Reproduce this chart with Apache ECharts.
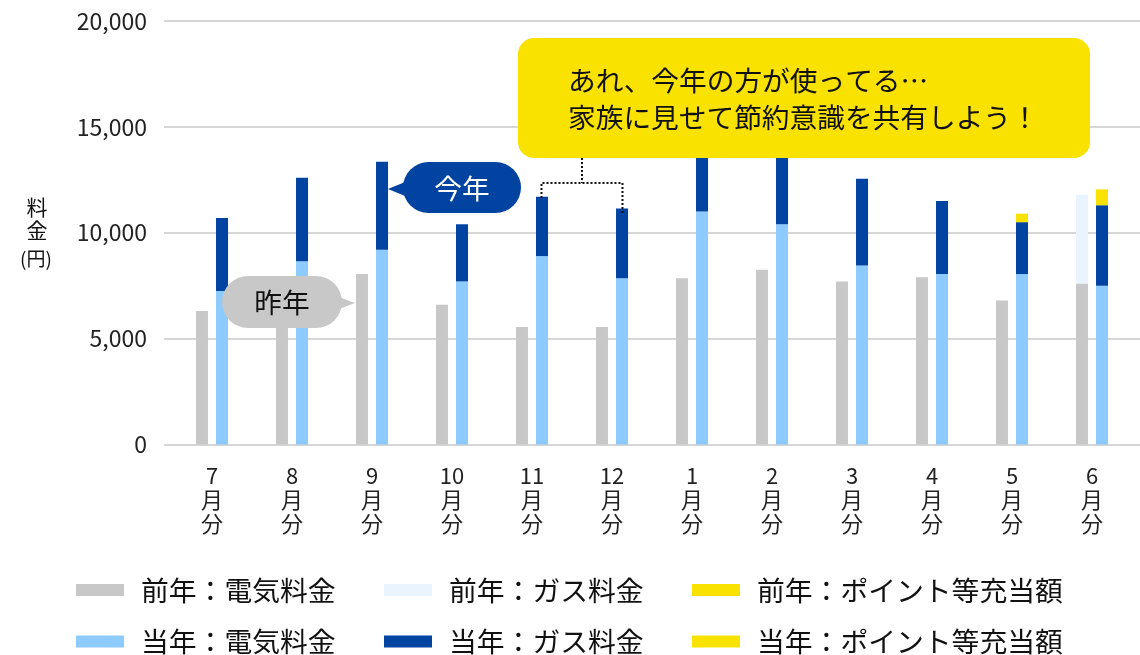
<!DOCTYPE html>
<html>
<head>
<meta charset="utf-8">
<script src="https://cdn.jsdelivr.net/npm/echarts@6/dist/echarts.min.js"></script>
<style>
html,body{margin:0;padding:0;background:#ffffff;}
#chart{width:1140px;height:655px;}
</style>
</head>
<body>
<div id="chart"></div>
<script>
// ---- data ----
const months = ['7月分','8月分','9月分','10月分','11月分','12月分','1月分','2月分','3月分','4月分','5月分','6月分'];
const prevElectric = [6300, 6500, 8050, 6600, 5550, 5550, 7850, 8250, 7700, 7900, 6800, 7600];
const prevGas      = [0, 0, 0, 0, 0, 0, 0, 0, 0, 0, 0, 4200];
const prevPoints   = [0, 0, 0, 0, 0, 0, 0, 0, 0, 0, 0, 0];
const curElectric  = [7250, 8650, 9200, 7700, 8900, 7850, 11000, 10400, 8450, 8050, 8050, 7500];
const curGas       = [3450, 3950, 4150, 2700, 2800, 3300, 4200, 4400, 4100, 3450, 2450, 3800];
const curPoints    = [0, 0, 0, 0, 0, 0, 0, 0, 0, 0, 400, 750];
const yMin = 0, yMax = 20000, yInterval = 5000;
const seriesNames = ['前年：電気料金','前年：ガス料金','前年：ポイント等充当額','当年：電気料金','当年：ガス料金','当年：ポイント等充当額'];
const calloutLines = ['あれ、今年の方が使ってる…','家族に見せて節約意識を共有しよう！'];
const thisYearTag = '今年';
const lastYearTag = '昨年';
const yAxisTitle = ['料','金','(円)'];

// ---- styles ----
const FONT = '"Noto Sans CJK JP", "Noto Sans", sans-serif';
const C_GRAY = '#c8c8c8';
const C_PREV_GAS = '#e9f4fe';
const C_YELLOW = '#f9e100';
const C_CUR_ELEC = '#8dcafd';
const C_CUR_GAS = '#0043a1';
const colors = [C_GRAY, C_PREV_GAS, C_YELLOW, C_CUR_ELEC, C_CUR_GAS, C_YELLOW];
const seriesData = [prevElectric, prevGas, prevPoints, curElectric, curGas, curPoints];

const chart = echarts.init(document.getElementById('chart'));

const series = seriesData.map((d, i) => ({
  name: seriesNames[i],
  type: 'bar',
  xAxisIndex: 1,
  yAxisIndex: 1,
  stack: i < 3 ? 'prev' : 'cur',
  barWidth: 12,
  barGap: '67%',
  itemStyle: { color: colors[i] },
  emphasis: { disabled: true },
  data: d
}));

const legendPos = [
  [76, 576], [384, 576], [692, 576],
  [76, 627.5], [384, 627.5], [692, 627.5]
];
const legends = seriesNames.map((n, i) => ({
  data: [n],
  left: legendPos[i][0],
  top: legendPos[i][1],
  padding: 0,
  icon: 'rect',
  itemWidth: 48,
  itemHeight: 12,
  selectedMode: false,
  textStyle: { fontFamily: FONT, fontSize: 27.8, lineHeight: 28, color: '#111', padding: [0, 0, 0, 12] }
}));

function txt(text, x, y, size, color, align) {
  return {
    type: 'text', z: 100,
    style: {
      text: text, x: x, y: y,
      font: size + 'px ' + FONT,
      fill: color,
      align: align || 'left', textAlign: align || 'left',
      verticalAlign: 'middle', textVerticalAlign: 'middle'
    }
  };
}

const graphics = [
  // y axis title
  txt(yAxisTitle[0], 37, 207, 21, '#111', 'center'),
  txt(yAxisTitle[1], 37, 230, 21, '#111', 'center'),
  txt(yAxisTitle[2], 36, 259, 19, '#111', 'center'),
  // callout box
  { type: 'rect', z: 100, shape: { x: 518, y: 38, width: 572, height: 120, r: 16 }, style: { fill: C_YELLOW } },
  txt(calloutLines[0], 568, 80, 27.7, '#111'),
  txt(calloutLines[1], 568, 117, 27.7, '#111'),
  // dotted connector
  { type: 'polyline', z: 100, shape: { points: [[582, 158], [582, 183]] }, style: { stroke: '#111', lineWidth: 2, lineDash: [2, 2], fill: null } },
  { type: 'polyline', z: 100, shape: { points: [[541.5, 198], [541.5, 183], [622.5, 183], [622.5, 215]] }, style: { stroke: '#111', lineWidth: 2, lineDash: [2, 2], fill: null } },
  // 今年 bubble
  { type: 'rect', z: 100, shape: { x: 403, y: 162, width: 118, height: 51, r: 25.5 }, style: { fill: C_CUR_GAS } },
  { type: 'polygon', z: 100, shape: { points: [[388, 189], [410, 180], [410, 198]] }, style: { fill: C_CUR_GAS } },
  txt(thisYearTag, 462, 188, 27.7, '#ffffff', 'center'),
  // 昨年 bubble
  { type: 'rect', z: 100, shape: { x: 222, y: 276, width: 120, height: 52, r: 26 }, style: { fill: C_GRAY } },
  { type: 'polygon', z: 100, shape: { points: [[355, 303], [334, 295], [334, 311]] }, style: { fill: C_GRAY } },
  txt(lastYearTag, 282, 302, 27.7, '#111', 'center')
];

chart.setOption({
  animation: false,
  backgroundColor: '#ffffff',
  textStyle: { fontFamily: FONT },
  grid: [
    { left: 164, right: 0, top: 21, bottom: 210.5 },
    { left: 172, width: 960, top: 21, bottom: 210.5 }
  ],
  xAxis: [
    { gridIndex: 0, type: 'category', data: [], show: false },
    {
      gridIndex: 1, type: 'category', data: months,
      axisLine: { show: false }, axisTick: { show: false },
      axisLabel: {
        interval: 0, margin: 19, fontFamily: FONT, fontSize: 22, lineHeight: 24, color: '#222',
        formatter: v => v.replace('月', '\n月\n')
      }
    }
  ],
  yAxis: [
    {
      gridIndex: 0, type: 'value', min: yMin, max: yMax, interval: yInterval,
      axisLine: { show: false }, axisTick: { show: false },
      axisLabel: { margin: 17, fontFamily: FONT, fontSize: 23, color: '#222' },
      splitLine: { lineStyle: { color: C_GRAY, width: 1.5 } }
    },
    {
      gridIndex: 1, type: 'value', min: yMin, max: yMax, interval: yInterval, show: false,
      splitLine: { show: false }
    }
  ],
  legend: legends,
  series: series,
  graphic: graphics
});
</script>
</body>
</html>
